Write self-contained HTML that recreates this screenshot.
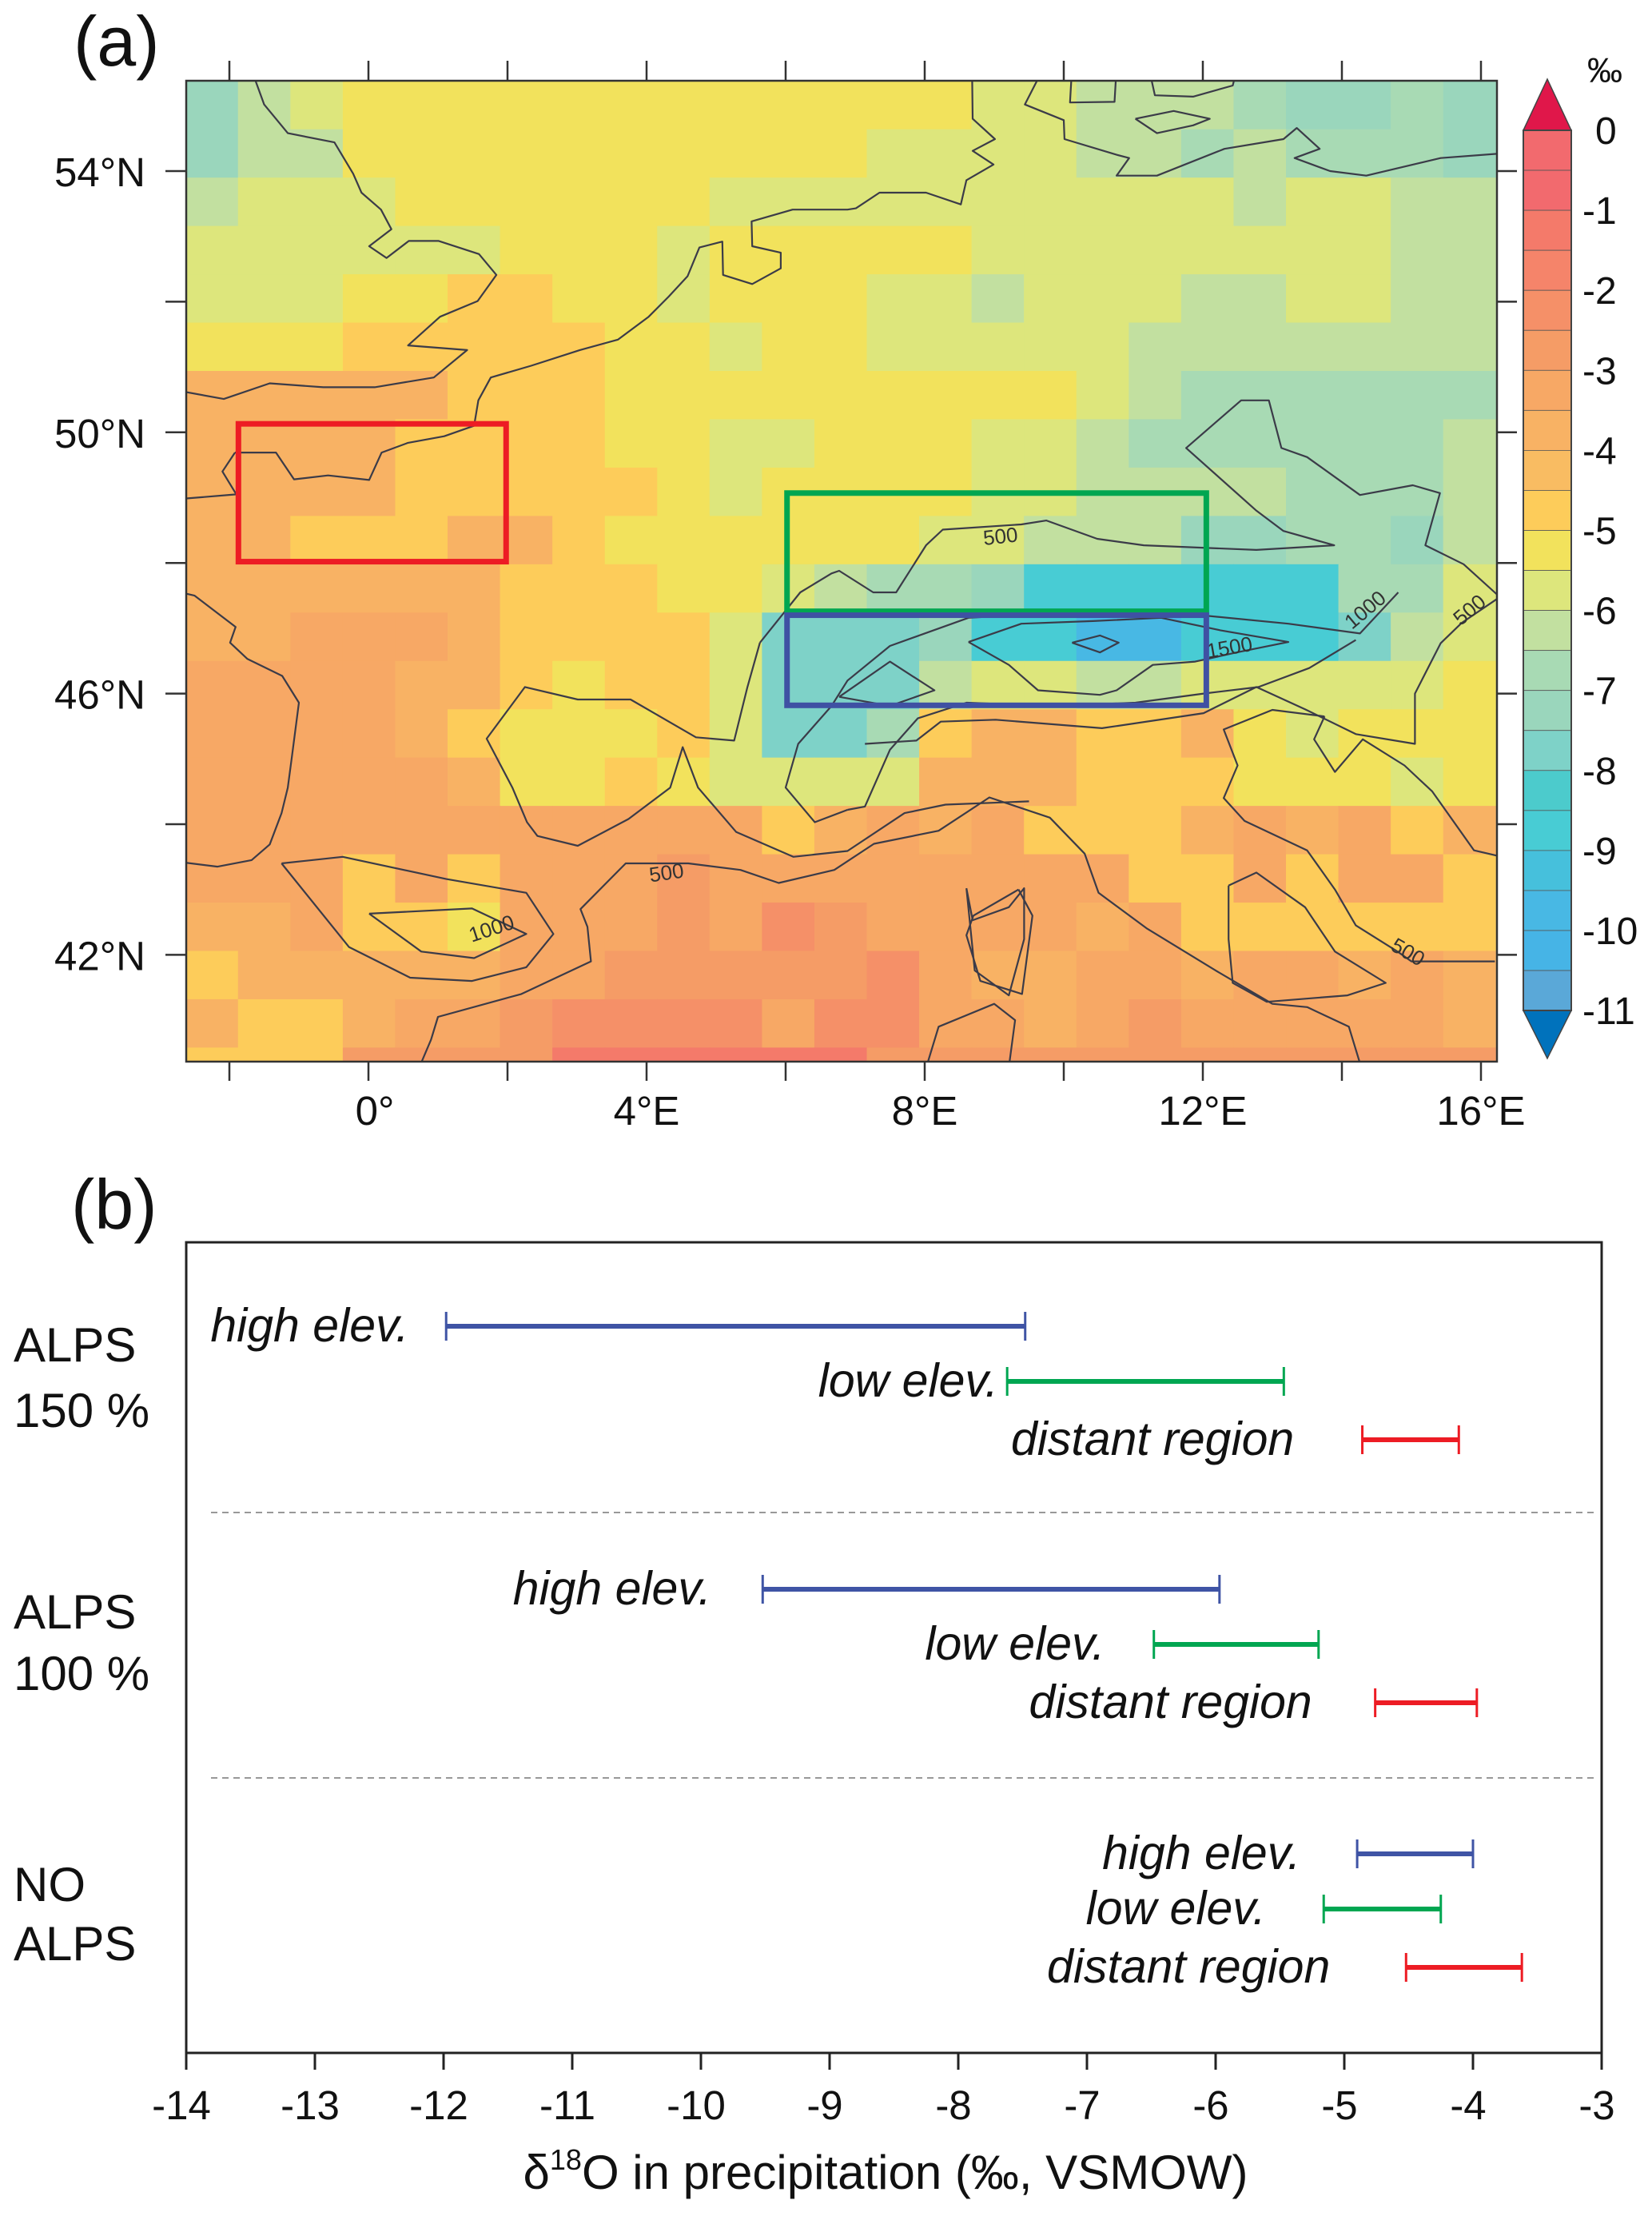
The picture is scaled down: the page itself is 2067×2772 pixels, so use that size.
<!DOCTYPE html>
<html><head><meta charset="utf-8">
<style>
html,body{margin:0;padding:0;background:#fff;}
svg{display:block;font-family:"Liberation Sans",Arial,sans-serif;}
</style></head>
<body>
<svg id="fig" width="2067" height="2772" viewBox="0 0 2067 2772" xmlns="http://www.w3.org/2000/svg">
  <defs><clipPath id="mapclip"><rect x="233" y="101" width="1640" height="1227"/></clipPath></defs>
  <text x="92" y="82" font-size="88" fill="#111">(a)</text>
  <text x="89" y="1537" font-size="88" fill="#111">(b)</text>
  <g id="map"></g>
  <g id="cbar"></g>
  <g id="rangechart"></g>
</svg>
<script>
// ---------- Panel (a) data ----------
const gridLon0 = -2.63, gridDLon = 0.7536, gridLat0 = 55.38, gridDLat = 0.74;
const cellValues = [
[-7.2,-6.2,-5.7,-5.2,-5.2,-5.2,-5.2,-5.2,-5.2,-5.2,-5.2,-5.2,-5.2,-5.2,-5.2,-5.7,-5.7,-6.2,-6.2,-6.2,-6.9,-7.4,-7.4,-6.9,-7.4],
[-7.2,-6.2,-6.2,-5.2,-5.2,-5.2,-5.2,-5.2,-5.2,-5.2,-5.2,-5.2,-5.2,-5.7,-5.7,-5.7,-5.7,-6.2,-6.2,-6.9,-6.2,-6.9,-6.9,-6.9,-7.4],
[-6.2,-5.7,-5.7,-5.7,-5.2,-5.2,-5.2,-5.2,-5.2,-5.2,-5.7,-5.7,-5.7,-5.7,-5.7,-5.7,-5.7,-5.7,-5.7,-5.7,-6.2,-5.6,-5.6,-6.2,-6.2],
[-5.7,-5.7,-5.7,-5.7,-5.7,-5.7,-5.2,-5.2,-5.2,-5.7,-5.2,-5.2,-5.2,-5.2,-5.2,-5.7,-5.7,-5.7,-5.7,-5.7,-5.7,-5.7,-5.7,-6.2,-6.2],
[-5.7,-5.7,-5.7,-5.2,-5.2,-4.7,-4.7,-5.2,-5.2,-5.7,-5.2,-5.2,-5.2,-5.7,-5.7,-6.2,-5.7,-5.7,-5.7,-6.2,-6.2,-5.7,-5.7,-6.2,-6.2],
[-5.2,-5.2,-5.2,-4.7,-4.7,-4.7,-4.7,-4.7,-5.2,-5.2,-5.7,-5.2,-5.2,-5.7,-5.7,-5.7,-5.7,-5.7,-6.2,-6.2,-6.2,-6.2,-6.2,-6.2,-6.2],
[-3.8,-3.8,-3.8,-3.8,-3.8,-4.7,-4.7,-4.7,-5.2,-5.2,-5.2,-5.2,-5.2,-5.2,-5.2,-5.2,-5.2,-5.7,-6.2,-6.9,-6.9,-6.9,-6.9,-6.9,-6.9],
[-3.8,-3.8,-3.8,-3.8,-4.7,-4.7,-4.7,-4.7,-5.2,-5.2,-5.7,-5.7,-5.2,-5.2,-5.2,-5.7,-5.7,-6.2,-6.9,-6.9,-6.9,-6.9,-6.9,-6.9,-6.2],
[-3.8,-3.8,-3.8,-3.8,-4.7,-4.7,-4.7,-4.7,-4.7,-5.2,-5.7,-5.2,-5.2,-5.2,-5.2,-5.7,-5.7,-6.2,-6.2,-6.2,-6.2,-6.9,-6.9,-6.9,-6.2],
[-3.8,-3.8,-4.7,-4.7,-4.7,-3.6,-3.6,-4.7,-5.2,-5.2,-5.2,-5.2,-5.2,-5.2,-5.7,-5.7,-6.2,-6.2,-6.2,-7.4,-7.4,-6.9,-6.9,-7.4,-6.2],
[-3.8,-3.8,-3.8,-3.8,-3.8,-3.8,-4.7,-4.7,-4.7,-5.2,-5.2,-5.7,-6.2,-6.9,-6.9,-7.4,-8.7,-8.7,-8.7,-8.7,-8.7,-8.7,-6.9,-6.9,-5.7],
[-3.8,-3.8,-3.3,-3.3,-3.3,-3.8,-4.7,-4.7,-4.7,-4.7,-5.7,-7.6,-7.6,-7.6,-7.0,-8.7,-8.7,-9.8,-9.8,-8.7,-8.7,-8.7,-7.6,-6.2,-5.7],
[-3.3,-3.3,-3.3,-3.3,-3.8,-3.8,-4.7,-5.2,-4.7,-4.7,-5.7,-7.6,-7.6,-7.6,-6.2,-5.7,-5.7,-6.2,-6.2,-5.7,-5.7,-5.7,-5.7,-5.7,-5.2],
[-3.3,-3.3,-3.3,-3.3,-3.8,-4.7,-5.2,-5.2,-5.2,-4.7,-5.7,-7.6,-7.6,-6.9,-4.7,-3.8,-3.8,-4.7,-4.7,-3.8,-5.2,-5.7,-5.2,-5.2,-5.2],
[-3.1,-3.1,-3.1,-3.1,-3.1,-3.8,-5.2,-5.2,-4.7,-5.2,-5.7,-5.7,-5.7,-5.7,-3.8,-3.8,-3.8,-4.7,-4.7,-4.7,-5.2,-5.2,-5.2,-5.7,-5.2],
[-3.2,-3.2,-3.2,-3.2,-3.2,-3.2,-3.2,-3.2,-3.2,-3.2,-3.2,-4.7,-3.8,-3.2,-3.8,-3.2,-4.7,-4.7,-4.7,-3.8,-3.2,-3.8,-3.2,-4.7,-3.8],
[-3.2,-3.2,-3.2,-4.7,-3.2,-4.7,-3.2,-3.2,-3.2,-2.8,-3.2,-3.2,-3.2,-3.2,-3.2,-3.2,-3.2,-3.2,-4.7,-4.7,-3.2,-4.7,-3.2,-3.2,-4.7],
[-3.8,-3.8,-3.2,-4.7,-4.7,-5.2,-3.2,-3.2,-3.2,-2.7,-3.2,-2.1,-2.7,-3.2,-3.2,-3.2,-3.2,-3.8,-3.2,-4.7,-4.7,-4.7,-4.7,-4.7,-4.7],
[-4.7,-3.8,-3.8,-3.8,-3.8,-3.8,-3.2,-3.2,-2.7,-2.7,-2.7,-2.7,-2.7,-2.1,-3.2,-3.8,-3.8,-3.2,-3.2,-3.8,-3.2,-3.2,-3.8,-3.2,-3.8],
[-3.8,-4.7,-4.7,-3.8,-3.2,-3.2,-2.6,-2.1,-2.3,-2.3,-2.3,-3.2,-2.1,-2.1,-3.2,-3.2,-3.8,-3.2,-2.8,-3.2,-3.2,-3.2,-3.2,-3.2,-3.8],
[-4.6,-4.6,-4.6,-2.6,-2.6,-2.6,-2.6,-1.4,-1.4,-1.4,-1.4,-1.4,-1.4,-2.6,-2.6,-2.6,-2.6,-2.6,-2.6,-2.6,-2.6,-2.6,-2.6,-2.6,-2.6]
];
const binColors = ["#f26a6e","#f26a6e","#f47a6a","#f5846a","#f59068","#f59c66","#f7a865","#f8b264","#f9bc62","#fdcc5a","#f2e25c","#dde67c","#c2e0a0","#a8dab4","#9ad6bc","#7ed2c8","#4ccbcc","#48ccd4","#46c0dc","#48b8e4","#46b4e6","#5aa8d8"];
const cbarTicks = [0,-1,-2,-3,-4,-5,-6,-7,-8,-9,-10,-11];
const lonTicks = [-2,0,2,4,6,8,10,12,14,16];
const lonLabels = [[0,"0°"],[4,"4°E"],[8,"8°E"],[12,"12°E"],[16,"16°E"]];
const latTicks = [42,44,46,48,50,52,54];
const latLabels = [[54,"54°N"],[50,"50°N"],[46,"46°N"],[42,"42°N"]];
const boxRed = [-1.87,1.98,48.02,50.13];
const boxGreen = [6.02,12.05,47.26,49.07];
const boxBlue = [6.02,12.05,45.82,47.2];
const coastlines = [
 [[-1.62,55.6],[-1.62,55.37],[-1.5,55.02],[-1.16,54.58],[-0.49,54.44],[-0.22,53.96],[-0.1,53.67],[0.18,53.41],[0.33,53.11],[0.01,52.85],[0.26,52.67],[0.58,52.93],[1.01,52.93],[1.59,52.73],[1.84,52.41],[1.57,52.01],[1.03,51.77],[0.57,51.33],[1.42,51.26],[0.94,50.84],[0.09,50.69],[-0.65,50.69],[-1.42,50.75],[-2.08,50.51],[-2.7,50.63]],
 [[-1.92,49.69],[-1.33,49.69],[-1.07,49.28],[-0.58,49.34],[0.01,49.27],[0.19,49.69],[0.57,49.84],[1.09,49.94],[1.52,50.1],[1.58,50.49],[1.76,50.84],[2.34,51.02],[3.04,51.26],[3.59,51.42],[4.03,51.77],[4.32,52.08],[4.59,52.39],[4.76,52.83],[5.09,52.92],[5.1,52.41],[5.52,52.27],[5.93,52.51],[5.93,52.75],[5.52,52.85],[5.51,53.23],[6.1,53.41],[6.89,53.41],[7.01,53.43],[7.35,53.67],[8.02,53.67],[8.52,53.49],[8.6,53.86],[8.99,54.1],[8.69,54.31],[9.01,54.49],[8.69,54.8],[8.68,55.6]],
 [[9.72,55.6],[9.44,55.02],[10.0,54.78],[10.01,54.49],[10.76,54.25],[10.94,54.2],[10.76,53.93],[11.34,53.93],[12.31,54.34],[13.16,54.49],[13.35,54.66],[13.68,54.34],[13.32,54.2],[13.83,54.0],[14.35,53.93],[15.42,54.2],[16.3,54.27]],
 [[11.22,55.6],[11.31,55.16],[11.86,55.14],[12.43,55.31],[12.5,55.6]],
 [[10.12,55.6],[10.09,55.05],[10.73,55.06],[10.76,55.6]],
 [[11.03,54.8],[11.34,54.58],[11.86,54.7],[12.1,54.8],[11.58,54.92],[11.03,54.8]],
 [[-1.92,49.69],[-2.1,49.4],[-1.9,49.05],[-2.7,48.98]],
 [[-2.7,47.55],[-2.5,47.5],[-1.91,47.02],[-1.99,46.78],[-1.74,46.53],[-1.24,46.27],[-1.0,45.86],[-1.1,45.04],[-1.16,44.56],[-1.25,44.17],[-1.42,43.69],[-1.68,43.45],[-2.17,43.35],[-2.7,43.42]],
 [[0.7,40.2],[0.9,40.7],[1.0,41.05],[2.2,41.4],[3.2,41.9],[3.15,42.43],[3.05,42.7],[3.7,43.4],[4.6,43.4],[5.35,43.3],[5.9,43.1],[6.7,43.3],[7.27,43.7],[8.2,43.9],[8.93,44.41],[9.8,44.1],[10.3,43.55],[10.5,42.95],[11.2,42.4],[12.2,41.75],[13.0,41.25],[13.5,41.2],[14.1,40.9],[14.3,40.2]],
 [[13.75,45.65],[13.0,45.75],[12.3,45.45],[12.5,44.9],[12.3,44.4],[12.6,44.05],[13.5,43.6],[13.9,43.0],[14.2,42.45],[14.8,42.05],[15.0,41.9],[15.5,41.9],[16.2,41.9]],
 [[13.75,45.65],[13.6,45.3],[13.9,44.8],[14.3,45.3],[14.9,44.9],[15.3,44.5],[15.9,43.6],[16.3,43.5]],
 [[9.35,43.0],[9.55,42.6],[9.4,41.4],[8.8,41.6],[8.6,42.3],[8.7,42.6],[9.35,43.0]],
 [[9.2,40.2],[9.3,41.0],[9.0,41.25],[8.2,40.9],[8.0,40.2]]
];
const contours = [
 [[5.63,46.78],[6.21,47.55],[6.66,47.84],[6.77,47.88],[7.26,47.55],[7.59,47.55],[8.02,48.27],[8.26,48.51],[9.39,48.59],[9.75,48.65],[10.48,48.37],[11.15,48.27],[12.77,48.2],[13.89,48.27],[13.16,48.49],[12.77,48.8],[11.76,49.76],[12.55,50.49],[12.95,50.49],[13.13,49.76],[13.5,49.62],[14.26,49.04],[15.02,49.19],[15.41,49.07],[15.2,48.27],[15.75,47.98],[16.3,47.45]],
 [[5.63,46.78],[5.45,46.1],[5.26,45.28],[4.71,45.33],[3.77,45.91],[3.01,45.91],[2.25,46.1],[1.7,45.31],[2.07,44.56],[2.28,44.03],[2.43,43.82],[3.01,43.67],[3.74,44.08],[4.34,44.56],[4.52,45.18],[4.74,44.56],[5.29,43.88],[6.11,43.5],[6.89,43.59],[7.71,44.17],[8.3,44.3],[9.5,44.35]],
 [[7.14,45.23],[7.88,45.28],[8.23,45.57],[9.02,45.6],[10.55,45.47],[12.01,45.7],[12.77,46.1],[13.47,45.76],[14.2,45.38],[15.05,45.23],[15.05,46.0],[15.42,46.77],[15.72,47.08],[16.3,47.5]],
 [[6.89,44.22],[6.42,44.03],[6.0,44.56],[6.18,45.23],[6.66,45.81],[6.89,46.2],[7.5,46.73],[8.63,47.16],[9.51,47.21],[11.4,47.26],[13.23,47.07],[14.26,46.92],[14.81,47.55]],
 [[14.2,46.82],[13.53,46.39],[12.8,46.1],[12.01,46.0],[11.03,45.86],[9.82,45.81],[8.6,45.86],[7.9,45.62],[7.5,45.14],[7.14,44.27],[6.89,44.22]],
 [[8.63,46.79],[9.39,47.07],[10.42,47.11],[11.4,47.16],[12.25,46.97],[13.23,46.79],[12.49,46.63],[11.89,46.49],[11.28,46.44],[10.76,46.05],[10.52,45.98],[9.63,46.05],[9.21,46.44],[8.63,46.79]],
 [[10.12,46.78],[10.52,46.89],[10.79,46.78],[10.52,46.63],[10.12,46.78]],
 [[6.77,45.95],[7.5,46.49],[8.14,46.05],[7.5,45.81],[6.77,45.95]],
 [[12.37,43.06],[12.77,43.26],[13.47,42.73],[13.9,42.05],[14.63,41.57],[14.08,41.38],[12.92,41.28],[12.43,41.57],[12.37,42.24],[12.37,43.06]],
 [[0.01,42.63],[1.49,42.71],[2.27,42.32],[1.52,41.95],[0.76,42.05],[0.01,42.63]],
 [[-1.25,43.4],[-0.37,43.5],[1.12,43.16],[2.27,42.95],[2.66,42.32],[2.27,41.81],[1.49,41.6],[0.6,41.65],[-0.28,42.12],[-1.25,43.4]],
 [[8.6,43.02],[8.69,42.53],[9.21,42.73],[9.43,43.02],[9.43,42.24],[9.21,41.38],[8.72,41.76],[8.6,43.02]]
];
const contourLabels = [[9.1,48.3,"500",-6],[4.3,43.15,"500",-8],[1.8,42.3,"1000",-18],[12.4,46.6,"1500",-10],[14.4,47.2,"1000",-40],[15.9,47.2,"500",-40],[14.9,41.95,"500",30]];

// ---------- Panel (b) data ----------
const groups = ["ALPS 150 %","ALPS 100 %","NO ALPS"];
const seriesNames = ["high elev.","low elev.","distant region"];
const seriesColors = ["#3f54a5","#00a651","#ed1c24"];
const rangeLow = [[-11.98,-7.62,-4.86],[-9.52,-6.48,-4.76],[-4.9,-5.16,-4.52]];
const rangeHigh = [[-7.48,-5.47,-4.11],[-5.97,-5.2,-3.97],[-4.0,-4.25,-3.62]];
const labelEnd = [[-12.27,-7.69,-5.39],[-9.92,-6.86,-5.25],[-5.34,-5.61,-5.11]];
const xTicks = [-14,-13,-12,-11,-10,-9,-8,-7,-6,-5,-4,-3];

// ---------- helpers ----------
const NS = "http://www.w3.org/2000/svg";
function mk(tag, attrs, parent){ const e=document.createElementNS(NS,tag); for(const k in attrs) e.setAttribute(k,attrs[k]); parent.appendChild(e); return e; }
const mapX = lon => 461 + lon*87;
const mapY = lat => 214 + (54-lat)*81.7;
function colorFor(v){ let k=Math.floor(-v/0.5); if(k<0)k=0; if(k>=binColors.length)k=binColors.length-1; return binColors[k]; }

// ---------- map ----------
const map = document.getElementById('map');
const cells = mk('g',{'clip-path':'url(#mapclip)'},map);


cellValues.forEach((row,j)=>{
  row.forEach((v,i)=>{
    const x0=mapX(gridLon0+i*gridDLon), x1=mapX(gridLon0+(i+1)*gridDLon);
    const y0=mapY(gridLat0-j*gridDLat), y1=mapY(gridLat0-(j+1)*gridDLat);
    const r=mk('rect',{x:x0,y:y0,width:x1-x0+0.6,height:y1-y0+0.6,fill:colorFor(v)},cells);
    
    
  });
});
const lines = mk('g',{'clip-path':'url(#mapclip)',fill:'none',stroke:'#3b3b48','stroke-width':2.2,'stroke-linejoin':'round'},map);


coastlines.concat(contours).forEach(pl=>{
  const p=mk('polyline',{points:pl.map(q=>mapX(q[0]).toFixed(1)+','+mapY(q[1]).toFixed(1)).join(' ')},lines);
  
  
});
contourLabels.forEach(c=>{
  const x=mapX(c[0]), y=mapY(c[1]);
  const t=mk('text',{x:x,y:y,'font-size':26,fill:'#333','text-anchor':'middle',transform:`rotate(${c[3]} ${x} ${y})`},map);
  t.textContent=c[2];
  
  
});
[[boxRed,'#ed1c24','distant-region-box'],[boxGreen,'#00a651','low-elev-box'],[boxBlue,'#3f51a3','high-elev-box']].forEach(b=>{
  const r=mk('rect',{x:mapX(b[0][0]),y:mapY(b[0][3]),width:mapX(b[0][1])-mapX(b[0][0]),height:mapY(b[0][2])-mapY(b[0][3]),fill:'none',stroke:b[1],'stroke-width':7},map);
  
  
});
const frame=mk('rect',{x:233,y:101,width:1640,height:1227,fill:'none',stroke:'#333','stroke-width':2.5},map);


lonTicks.forEach(l=>{
  const x=mapX(l);
  const a=mk('line',{x1:x,x2:x,y1:101,y2:76,stroke:'#333','stroke-width':2.5},map);
  
  
  const b=mk('line',{x1:x,x2:x,y1:1328,y2:1352,stroke:'#333','stroke-width':2.5},map);
  
  
});
lonLabels.forEach(l=>{
  const t=mk('text',{x:mapX(l[0])+(l[0]===0?8:0),y:1407,'font-size':51,'text-anchor':'middle',fill:'#111'},map);
  t.textContent=l[1];
  
  
});
latTicks.forEach(l=>{
  const y=mapY(l);
  const a=mk('line',{x1:207,x2:233,y1:y,y2:y,stroke:'#333','stroke-width':2.5},map);
  
  
  const b=mk('line',{x1:1873,x2:1898,y1:y,y2:y,stroke:'#333','stroke-width':2.5},map);
  
  
});
latLabels.forEach(l=>{
  const t=mk('text',{x:182,y:mapY(l[0])+19,'font-size':51,'text-anchor':'end',fill:'#111'},map);
  t.textContent=l[1];
  
  
});

// ---------- colorbar ----------
const cb=document.getElementById('cbar');
const cbY = v => 163 + (-v)*100.1;
binColors.forEach((c,k)=>{
  const r=mk('rect',{x:1906,y:cbY(-k*0.5),width:60,height:50.05,fill:c,stroke:'#555','stroke-width':0.8},cb);
  
  
});
const tri1=mk('polygon',{points:`1906,${cbY(0)} 1936,99 1966,${cbY(0)}`,fill:'#e0174a',stroke:'#444','stroke-width':1.5},cb);


const tri2=mk('polygon',{points:`1906,${cbY(-11)} 1936,1324 1966,${cbY(-11)}`,fill:'#0072bc',stroke:'#444','stroke-width':1.5},cb);


const cbf=mk('rect',{x:1906,y:163,width:60,height:1101,fill:'none',stroke:'#444','stroke-width':2},cb);


cbarTicks.forEach(v=>{
  const t=mk('text',{x:v===0?1996:1980,y:cbY(v)+17,'font-size':48,fill:'#111'},cb);
  t.textContent=String(v);
  
  
});
const pm=mk('text',{x:1986,y:103,'font-size':44,fill:'#111'},cb);
pm.textContent='‰';



// ---------- panel (b) ----------
const rc=document.getElementById('rangechart');
const bx = v => 233 + (v+14)*161;
const groupTop = [1659,1988,2319];
const rowStep = [0,69,142];
const groupLabelY = [[1703,1785],[2037,2114],[2378,2452]];
const groupLabelLines = [["ALPS","150 %"],["ALPS","100 %"],["NO","ALPS"]];
const bf=mk('rect',{x:233,y:1554,width:1771,height:1014,fill:'none',stroke:'#222','stroke-width':3},rc);


[1892,2224].forEach(y=>{
  const d=mk('line',{x1:264,x2:2000,y1:y,y2:y,stroke:'#777','stroke-width':1.5,'stroke-dasharray':'8,6'},rc);
  
  
});
xTicks.forEach(v=>{
  const x=bx(v);
  const l=mk('line',{x1:x,x2:x,y1:2568,y2:2589,stroke:'#222','stroke-width':3},rc);
  
  
  const t=mk('text',{x:x-6,y:2651,'font-size':51,'text-anchor':'middle',fill:'#111'},rc);
  t.textContent=String(v);
  
  
});
const title=mk('text',{x:1108,y:2738,'font-size':60,'text-anchor':'middle',fill:'#111'},rc);
title.innerHTML='δ<tspan font-size="36" dy="-24">18</tspan><tspan dy="24">O in precipitation (‰, VSMOW)</tspan>';


groups.forEach((g,gi)=>{
  groupLabelLines[gi].forEach((s,li)=>{
    const t=mk('text',{x:17,y:groupLabelY[gi][li],'font-size':60,fill:'#111'},rc);
    t.textContent=s;
    
    
  });
  seriesNames.forEach((s,si)=>{
    const y=groupTop[gi]+rowStep[si];
    const x0=bx(rangeLow[gi][si]), x1=bx(rangeHigh[gi][si]);
    const bar=mk('g',{stroke:seriesColors[si]},rc);
    
    
    mk('line',{x1:x0,x2:x1,y1:y,y2:y,'stroke-width':6},bar);
    mk('line',{x1:x0,x2:x0,y1:y-18,y2:y+18,'stroke-width':3},bar);
    mk('line',{x1:x1,x2:x1,y1:y-18,y2:y+18,'stroke-width':3},bar);
    const t=mk('text',{x:bx(labelEnd[gi][si]),y:y+19,'font-size':59,'font-style':'italic','text-anchor':'end',fill:'#111'},rc);
    t.textContent=s;
    
    
  });
});
</script>
</body></html>
